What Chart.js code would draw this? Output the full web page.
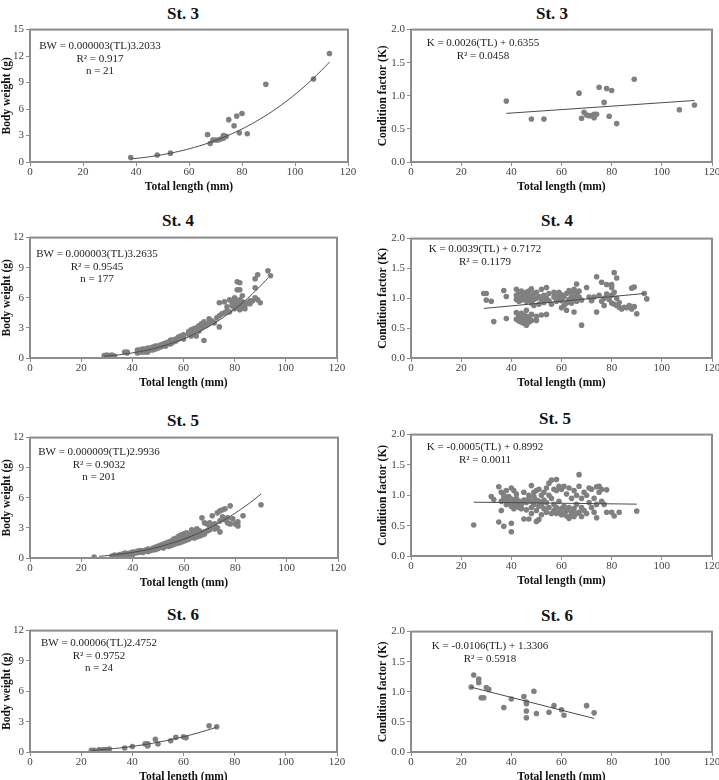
<!DOCTYPE html>
<html>
<head>
<meta charset="utf-8">
<script src="https://cdn.jsdelivr.net/npm/chart.js@4.4.0/dist/chart.umd.min.js"></script>
<style>
  html, body { margin: 0; padding: 0; background: #fff; overflow: hidden; }
  #page { position: relative; width: 719px; height: 780px; overflow: hidden; }
  .panel { position: absolute; }
  .st { position: absolute; font: bold 17px 'Liberation Serif', serif; color: #111;
        transform: translate(-50%, -50%); white-space: nowrap; }
</style>
</head>
<body>
<div id="page"></div>
<script>
// Total length (mm) vs body weight (g), one list per station
const st3BW = [[38,0.5],[48,0.8],[53,1.0],[67,3.1],[68,2.1],[69,2.5],[70,2.5],[71,2.5],[72,2.6],[73,2.7],[73,3.0],
  [74,2.9],[75,4.8],[77,4.1],[78,5.2],[79,3.3],[80,5.5],[82,3.2],[89,8.8],[107,9.4],[113,12.3]];

const st4BW = [[29,0.25],[30,0.3],[31,0.25],[32,0.3],[33,0.2],[37,0.6],[38,0.5],[38,0.6],
  [42,0.6],[42,0.8],[42,0.5],[43,0.7],[43,0.6],[43,0.8],[44,0.6],[44,0.7],[44,0.9],[45,0.6],[45,0.8],[45,0.7],[45,0.9],
  [46,0.7],[46,0.8],[46,1.0],[46,0.6],[47,0.8],[47,0.9],[47,1.0],[48,0.8],[48,1.0],[48,1.1],[49,0.9],[49,1.0],[49,1.2],
  [50,1.0],[50,1.2],[50,1.1],[51,1.1],[51,1.3],[52,1.2],[52,1.4],[53,1.3],[53,1.2],[53,1.5],[54,1.4],[54,1.6],[55,1.5],
  [55,1.8],[55,1.4],[56,1.6],[56,1.8],[57,1.7],[57,1.9],[58,1.9],[58,2.1],[59,2.0],[59,2.2],[60,2.1],[60,2.3],[60,1.9],
  [62,2.4],[62,2.6],[63,2.2],[63,2.8],[64,2.5],[64,2.9],[65,2.2],[65,3.0],[66,2.7],[66,3.2],[67,3.4],[67,3.0],[68,3.6],
  [68,1.75],[68,3.2],[69,3.3],[70,3.9],[70,3.5],[71,3.7],[72,3.5],[73,4.0],[74,5.5],[74,3.1],[74,4.2],[75,4.4],[76,5.6],
  [76,4.5],[77,4.7],[77,5.1],[78,5.8],[78,4.6],[79,5.2],[79,5.5],[80,4.9],[80,5.2],[80,6.0],[80,5.7],[81,7.6],[81,6.8],
  [81,5.0],[81,5.5],[82,7.5],[82,6.8],[82,5.3],[82,4.8],[82,5.8],[83,5.6],[83,6.2],[83,5.0],[84,5.2],[84,4.9],[85,5.5],
  [86,5.4],[86,5.7],[87,5.7],[88,6.0],[88,7.0],[88,7.9],[89,8.3],[89,5.8],[90,5.5],[93,8.7],[94,8.2]];

const st5BW = [[25,0.1],[32,0.2],[33,0.3],[34,0.25],[35,0.35],[35,0.2],[36,0.4],[36,0.3],[37,0.35],[37,0.5],[38,0.45],
  [38,0.3],[39,0.5],[39,0.4],[40,0.55],[40,0.6],[40,0.35],[41,0.6],[41,0.5],[42,0.7],[42,0.55],[43,0.6],[43,0.75],
  [44,0.7],[44,0.55],[45,0.8],[45,0.7],[46,0.9],[46,0.65],[47,0.85],[47,0.75],[48,1.0],[48,0.8],[48,0.9],[49,1.1],
  [49,0.85],[50,1.2],[50,0.95],[50,1.05],[51,1.1],[51,1.3],[52,1.4],[52,1.15],[52,1.0],[53,1.5],[53,1.2],[53,1.35],
  [54,1.6],[54,1.3],[54,1.15],[55,1.7],[55,1.45],[55,1.25],[56,1.9],[56,1.6],[56,1.35],[57,2.0],[57,1.7],[57,1.45],
  [58,2.2],[58,1.8],[58,1.5],[59,2.3],[59,1.95],[59,1.6],[60,2.4],[60,2.1],[60,1.7],[61,2.2],[61,1.8],[61,2.5],[62,2.0],
  [62,2.3],[62,1.9],[63,2.8],[63,2.1],[63,2.4],[64,2.2],[64,2.0],[64,2.6],[65,2.3],[65,2.1],[65,2.9],[66,2.4],[66,2.2],
  [66,2.7],[67,4.0],[67,2.5],[67,2.3],[68,2.6],[68,3.5],[68,2.4],[69,2.7],[69,3.4],[70,2.8],[70,3.5],[70,3.0],[71,4.2],
  [71,3.2],[72,3.4],[72,2.9],[73,4.5],[73,3.0],[74,4.7],[74,2.6],[74,3.7],[75,4.8],[75,4.1],[76,4.9],[76,3.8],[77,4.0],
  [77,3.5],[78,5.2],[78,3.4],[79,3.9],[80,3.4],[81,3.6],[81,3.2],[83,4.2],[90,5.3]];

const st6BW = [[24,0.16],[25,0.16],[27,0.2],[27,0.22],[28,0.2],[29,0.25],[30,0.25],[31,0.3],[37,0.4],[40,0.55],
  [45,0.8],[46,0.65],[46,0.8],[46,0.6],[46,0.75],[49,1.25],[50,0.8],[55,1.1],[57,1.45],[60,1.5],[61,1.4],[70,2.6],[73,2.5]];

// Total length (mm) vs condition factor K
const st3K = [[38,0.92],[48,0.65],[53,0.65],[67,1.04],[68,0.66],[69,0.75],[70,0.71],[71,0.70],[72,0.70],[73,0.67],
  [73,0.72],[74,0.72],[75,1.13],[77,0.90],[78,1.11],[79,0.69],[80,1.08],[82,0.58],[89,1.25],[107,0.79],[113,0.86]];

const st4K = [[29,1.08],[30,1.08],[30,0.97],[32,0.95],[33,0.61],[37,1.13],[38,1.03],[38,0.66],
  [42,1.15],[42,1.05],[42,0.98],[42,0.76],[42,0.65],[43,1.0],[43,0.95],[43,1.1],[43,0.62],[43,0.7],[44,1.02],[44,1.12],
  [44,0.97],[44,0.68],[44,0.6],[44,0.75],[45,1.05],[45,0.99],[45,1.08],[45,0.58],[45,0.65],[45,0.72],[46,1.0],[46,1.1],
  [46,0.95],[46,0.55],[46,0.63],[46,0.7],[46,0.8],[47,1.04],[47,1.12],[47,0.97],[47,0.6],[47,0.68],[48,1.16],[48,1.02],
  [48,0.92],[48,0.73],[48,0.63],[49,1.08],[49,0.98],[49,0.88],[50,1.1],[50,1.0],[50,0.7],[50,0.63],[51,1.03],[51,0.9],
  [52,1.15],[52,0.98],[52,0.72],[53,1.05],[53,0.93],[54,1.18],[54,1.0],[54,0.73],[55,0.96],[55,1.08],[56,0.9],[57,1.02],
  [57,1.1],[58,0.95],[58,1.07],[59,1.1],[59,1.0],[60,0.96],[60,1.06],[60,0.84],[61,1.02],[61,0.88],[62,0.92],[62,1.08],
  [62,0.8],[63,1.13],[63,0.98],[64,1.1],[64,1.03],[64,0.92],[65,1.15],[65,1.0],[65,0.77],[66,1.24],[66,1.1],[66,1.05],
  [66,0.95],[67,1.12],[67,1.02],[68,0.55],[68,0.97],[70,1.18],[71,1.02],[72,0.96],[73,1.02],[74,1.36],[74,0.77],[75,1.05],
  [76,1.27],[76,0.95],[77,1.0],[77,0.88],[78,1.23],[78,1.07],[79,0.98],[80,1.23],[80,1.18],[80,0.92],[80,1.05],[81,1.43],
  [81,1.1],[81,0.9],[82,1.34],[82,1.0],[82,0.88],[83,0.93],[83,0.85],[84,0.82],[85,0.85],[86,0.84],[87,0.88],[88,0.82],
  [88,1.17],[89,1.19],[89,0.86],[90,0.74],[93,1.08],[94,0.99]];

const st5K = [[25,0.51],[32,0.98],[33,0.93],[35,1.14],[35,0.56],[36,0.9],[36,1.05],[36,0.75],[37,0.49],[37,0.95],
  [37,1.0],[38,0.85],[38,1.08],[38,0.92],[39,0.88],[39,0.98],[40,1.12],[40,0.54],[40,0.4],[40,0.82],[40,0.94],[41,1.08],
  [41,0.88],[41,0.78],[42,0.83],[42,1.02],[42,0.95],[43,0.8],[43,0.9],[44,0.85],[44,0.78],[45,1.05],[45,0.61],[45,0.92],
  [46,0.88],[46,0.76],[47,0.61],[47,0.95],[47,1.0],[48,1.16],[48,0.9],[48,0.8],[48,0.7],[49,1.05],[49,0.85],[49,0.98],
  [50,0.92],[50,0.57],[50,0.75],[50,1.08],[51,0.6],[51,1.1],[51,0.9],[51,0.82],[52,1.0],[52,0.85],[52,0.68],[53,1.05],
  [53,0.92],[53,0.78],[54,1.12],[54,0.88],[54,0.72],[55,1.2],[55,1.0],[55,0.8],[56,1.25],[56,0.95],[56,0.7],[57,1.1],
  [57,0.85],[57,0.75],[58,1.26],[58,1.08],[58,0.7],[58,0.8],[59,1.15],[59,0.9],[59,0.72],[60,1.1],[60,0.78],[60,0.68],
  [61,1.15],[61,0.82],[61,0.7],[62,1.02],[62,0.75],[62,0.66],[63,1.12],[63,0.8],[63,0.62],[64,0.95],[64,0.72],[64,0.68],
  [65,1.08],[65,0.78],[65,0.65],[66,0.85],[66,0.7],[66,1.0],[67,1.34],[67,1.15],[67,0.72],[68,0.95],[68,0.65],[68,0.8],
  [69,1.05],[69,0.75],[70,1.0],[70,0.7],[71,1.12],[71,0.88],[72,0.8],[72,1.1],[73,0.95],[73,0.72],[74,1.14],[74,0.63],
  [74,0.85],[75,1.15],[75,1.05],[76,1.1],[76,0.9],[77,0.85],[78,1.09],[78,0.72],[80,0.72],[81,0.66],[83,0.72],[90,0.74]];

const st6K = [[24,1.08],[25,1.28],[27,1.21],[27,1.15],[28,0.9],[29,0.9],[30,1.07],[31,1.04],[37,0.74],[40,0.88],
  [45,0.92],[46,0.83],[46,0.8],[46,0.68],[46,0.57],[49,1.01],[50,0.64],[55,0.66],[57,0.77],[60,0.7],[61,0.61],[70,0.77],[73,0.65]];

// fitted trends as printed on the chart
const bwA = [0.000003, 0.000003, 0.000009, 0.00006];
const bwB = [3.2033, 3.2635, 2.9936, 2.4752];
const bwRange = [[38, 113], [29, 93], [27, 90], [24, 73]];
const kSlope = [0.0026, 0.0039, -0.0005, -0.0106];
const kIntercept = [0.6355, 0.7172, 0.8992, 1.3306];
const kRange = [[38, 113], [29, 93], [25, 90], [24, 73]];

const stations = ['St. 3', 'St. 4', 'St. 5', 'St. 6'];
const bwEq = [
  ['BW = 0.000003(TL)3.2033', 'R² = 0.917', 'n = 21'],
  ['BW = 0.000003(TL)3.2635', 'R² = 0.9545', 'n = 177'],
  ['BW = 0.000009(TL)2.9936', 'R² = 0.9032', 'n = 201'],
  ['BW = 0.00006(TL)2.4752', 'R² = 0.9752', 'n = 24']
];
const kEq = [
  ['K = 0.0026(TL) + 0.6355', 'R² = 0.0458'],
  ['K = 0.0039(TL) + 0.7172', 'R² = 0.1179'],
  ['K = -0.0005(TL) + 0.8992', 'R² = 0.0011'],
  ['K = -0.0106(TL) + 1.3306', 'R² = 0.5918']
];
const bwMax = [15, 12, 12, 12];
const bwData = [st3BW, st4BW, st5BW, st6BW];
const kData = [st3K, st4K, st5K, st6K];

// page layout: plot rectangles [left, top, right, bottom], title centres, equation offsets
const bwPlot = [[30, 29, 348, 162], [30, 237, 337, 358], [30, 437, 338, 558], [30, 630, 337, 752]];
const kPlot = [[411, 29, 712, 162], [411, 238, 712, 358], [411, 434, 712, 556], [411, 631, 712, 752]];
const bwTitlePos = [[183, 14], [178, 221], [183, 421], [183, 615]];
const kTitlePos = [[552, 14], [557, 221], [555, 419], [557, 616]];
const bwEqPos = [[70, 17], [67, 17], [69, 15], [69, 13]];
const kEqPos = [[72, 14], [74, 11], [74, 13], [79, 15]];

const serif = "'Liberation Serif', 'Times New Roman', serif";
const page = document.getElementById('page');

const framePlugin = {
  id: 'frame',
  afterDraw(chart) {
    const ctx = chart.ctx, a = chart.chartArea;
    ctx.save();
    ctx.strokeStyle = '#8c8c8c';
    ctx.lineWidth = 2;
    ctx.strokeRect(a.left, a.top, a.right - a.left, a.bottom - a.top);
    ctx.restore();
  }
};

const eqPlugin = {
  id: 'equation',
  afterDraw(chart, args, opts) {
    const ctx = chart.ctx, a = chart.chartArea;
    ctx.save();
    ctx.font = '11px ' + serif;
    ctx.fillStyle = '#222';
    ctx.textAlign = 'center';
    ctx.textBaseline = 'middle';
    opts.lines.forEach(function(t, i) {
      ctx.fillText(t, a.left + opts.pos[0], a.top + opts.pos[1] + i * 12.5);
    });
    ctx.restore();
  }
};

function addTitle(text, pos) {
  const d = document.createElement('div');
  d.className = 'st';
  d.textContent = text;
  d.style.left = pos[0] + 'px';
  d.style.top = pos[1] + 'px';
  page.appendChild(d);
}

function makePanel(plot, right, points, trend, yMax, yStep, yTitle, eqLines, eqPos, decimals) {
  const padTop = 8, xH = 32;
  const yW = right ? 35 : 30;
  const padR = right ? 9 : 12;
  const canvas = document.createElement('canvas');
  canvas.className = 'panel';
  canvas.width = yW + (plot[2] - plot[0]) + padR;
  canvas.height = padTop + (plot[3] - plot[1]) + xH;
  canvas.style.left = (plot[0] - yW) + 'px';
  canvas.style.top = (plot[1] - padTop) + 'px';
  page.appendChild(canvas);

  const tickFont = { family: serif, size: 11 };
  const titleFont = { family: serif, size: 11.5, weight: 'bold' };

  new Chart(canvas, {
    type: 'scatter',
    data: {
      datasets: [
        {
          data: points.map(p => ({ x: p[0], y: p[1] })),
          pointRadius: 2.8,
          pointBackgroundColor: '#808080',
          pointBorderWidth: 0,
          order: 1
        },
        {
          type: 'line',
          data: trend,
          borderColor: '#4a4a4a',
          borderWidth: 1,
          pointRadius: 0,
          fill: false,
          tension: 0,
          order: 0
        }
      ]
    },
    options: {
      responsive: false,
      animation: false,
      events: [],
      layout: { padding: { top: padTop, right: padR, left: 0, bottom: 0 } },
      plugins: {
        legend: { display: false },
        tooltip: { enabled: false },
        equation: { lines: eqLines, pos: eqPos }
      },
      scales: {
        x: {
          type: 'linear', min: 0, max: 120,
          ticks: { stepSize: 20, font: tickFont, color: '#444', padding: 0, maxRotation: 0 },
          grid: { drawOnChartArea: false, tickLength: 4, color: '#8c8c8c' },
          border: { display: false },
          title: { display: true, text: 'Total length (mm)', font: titleFont, color: '#111', padding: 0 },
          afterFit(s) { s.height = xH; }
        },
        y: {
          type: 'linear', min: 0, max: yMax,
          ticks: {
            stepSize: yStep, font: tickFont, color: '#444', padding: 2,
            callback: v => v.toFixed(decimals)
          },
          grid: { drawOnChartArea: false, tickLength: 4, color: '#8c8c8c' },
          border: { display: false },
          title: { display: true, text: yTitle, font: titleFont, color: '#111', padding: 0 },
          afterFit(s) { s.width = yW; }
        }
      }
    },
    plugins: [framePlugin, eqPlugin]
  });
}

for (let i = 0; i < 4; i++) {
  // body weight panel with power trend
  const bwTrend = [];
  for (let x = bwRange[i][0]; x <= bwRange[i][1]; x++) {
    bwTrend.push({ x: x, y: bwA[i] * Math.pow(x, bwB[i]) });
  }
  addTitle(stations[i], bwTitlePos[i]);
  makePanel(bwPlot[i], false, bwData[i], bwTrend, bwMax[i], 3, 'Body weight (g)', bwEq[i], bwEqPos[i], 0);

  // condition factor panel with linear trend
  const kTrend = kRange[i].map(x => ({ x: x, y: kSlope[i] * x + kIntercept[i] }));
  addTitle(stations[i], kTitlePos[i]);
  makePanel(kPlot[i], true, kData[i], kTrend, 2, 0.5, 'Condition factor (K)', kEq[i], kEqPos[i], 1);
}
</script>
</body>
</html>
